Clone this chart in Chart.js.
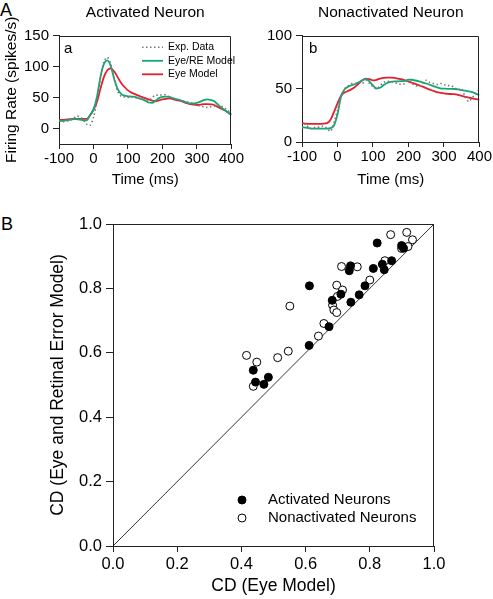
<!DOCTYPE html>
<html>
<head>
<meta charset="utf-8">
<script src="https://cdn.jsdelivr.net/npm/chart.js@4/dist/chart.umd.min.js"></script>
<style>
  body { margin: 0; background: #fff; width: 493px; height: 599px; position: relative; overflow: hidden;
         font-family: Arial, "Liberation Sans", sans-serif; }
  .pane { position: absolute; }
  .tag { position: absolute; color: #000; line-height: 1; }
</style>
</head>
<body>
<div class="tag" style="left:0px;top:1px;font-size:18px">A</div>
<div class="tag" style="left:1px;top:215px;font-size:18px">B</div>
<div class="pane" style="left:0;top:0"><canvas id="panelA" width="245" height="195"></canvas></div>
<div class="pane" style="left:245px;top:0"><canvas id="panelB" width="248" height="195"></canvas></div>
<div class="pane" style="left:0;top:200px"><canvas id="scatterCD" width="493" height="399"></canvas></div>
<div class="tag" style="left:64px;top:40px;font-size:15px">a</div>
<div class="tag" style="left:309px;top:40px;font-size:15px">b</div>
<script>
// time axis (ms), shared by every trace
const timeMs = [-100,-90,-80,-70,-60,-50,-40,-30,-20,-10,0,10,20,30,40,50,60,70,80,90,100,
  110,120,130,140,150,160,170,180,190,200,210,220,230,240,250,260,270,280,290,300,
  310,320,330,340,350,360,370,380,390,400];

// panel a - activated neuron (spikes/s)
const expA = [12,11,12,13,15,20,19,14,7,5,18,45,80,108,115,104,80,60,52,51,50,
  51,50,49,48,46,44,50,54,53,55,54,51,49,47,45,44,43,42,40,38,
  36,35,34,35,36,38,36,33,29,24];
const eyeReA = [12,12.5,13,14,15,15,14.5,13.5,13,22,31,51,83,104,110,101,80,64,56,53,52,
  51.5,51,49,47.5,45,42,41.5,45,49,51,51.5,51,49,47.5,46,44,42,40.5,40.5,41.5,
  43.5,46,47,46,44,39,34,30,26,22];
const eyeA = [14,14,14.5,15,15.5,15.5,15.5,15.5,15.5,21,30,43,64,83,94,97,92,83,73.5,67,61.5,
  58,55.5,53,51,49,47,45,44,45.5,47,48,48.5,47.5,46,45,43,41,39.5,38.5,38,
  38.5,39.5,39.5,39,38,35,32,29.5,26,22];

// panel b - nonactivated neuron (spikes/s)
const expB = [13,17,13,13,14,14,15,13,10,18,30,42,50,53,55,55,56,55,58,55,52,
  50,53,56,57,57,56,55,54,55,58,55,53,52,55,58,56,55,54,55,54,
  53,53,51,49,50,42,38,42,45,50];
const eyeReB = [14,13.5,13,12.5,12.5,12.5,12.5,12.5,13,15.5,26,43,49.5,52,53.5,54.5,56,58,59,57,53,
  50.3,51,53.5,55.5,56.5,57,57,57.2,57.5,58.6,58.5,57.8,57,56,55,53.8,52.5,51.3,50.5,50.2,
  50,50,49.8,49.4,48.8,48.2,47.5,46.8,45.5,44];
const eyeB = [17.7,17.2,17,17,17,17,17.2,17.7,20.7,28,36.3,43.5,46.5,48,49.7,52,55,58,59.6,59,58,
  58.5,59.6,60.3,60.5,60.5,60.2,59.6,59,58,56.8,55.7,54.6,53.3,52,50.6,49.3,48,46.9,46.2,45.6,
  45.3,45.1,45,44.2,43.3,42.5,41.8,41,40.4,39.8];

// panel B - coefficient of determination per neuron
const activatedEye = [0.437,0.444,0.470,0.484,0.611,0.612,0.673,0.683,0.710,0.741,0.767,
  0.785,0.736,0.740,0.811,0.839,0.845,0.868,0.823,0.899,0.905];
const activatedEyeRe = [0.546,0.509,0.502,0.524,0.623,0.808,0.681,0.763,0.782,0.757,0.780,
  0.808,0.855,0.870,0.862,0.875,0.858,0.886,0.941,0.933,0.925];
const nonactEye = [0.416,0.448,0.437,0.513,0.546,0.551,0.640,0.657,0.684,0.688,0.697,0.699,
  0.697,0.715,0.712,0.761,0.800,0.847,0.865,0.915,0.933,0.899,0.919];
const nonactEyeRe = [0.592,0.571,0.496,0.585,0.605,0.745,0.652,0.691,0.748,0.733,0.725,0.775,
  0.810,0.795,0.868,0.867,0.826,0.886,0.967,0.974,0.951,0.924,0.930];
const identity = [0, 1];

// tick labels
const timeTicks = [-100, 0, 100, 200, 300, 400];
const rateTicksA = [0, 50, 100, 150];
const rateTicksB = [0, 50, 100];
const cdTicks = [0, 0.2, 0.4, 0.6, 0.8, 1.0];
const rateFloorA = -25;   // panel a axis starts below zero

const FONT = 'Arial, "Liberation Sans", sans-serif';
const GREEN = '#12a874';
const RED = '#e3202c';
const GREY = '#7a7a7a';

function pts(xs, ys) {
  return xs.map((x, i) => ({ x: x, y: ys[i] }));
}

// top + right edges of the plot box
const frameBox = {
  id: 'frameBox',
  afterDraw(chart) {
    const { ctx, chartArea } = chart;
    const l = Math.round(chartArea.left) + 0.5, r = Math.round(chartArea.right) - 0.5;
    const t = Math.round(chartArea.top) + 0.5, b = Math.round(chartArea.bottom);
    ctx.save();
    ctx.strokeStyle = '#222';
    ctx.lineWidth = 1;
    ctx.beginPath();
    ctx.moveTo(l, t); ctx.lineTo(r, t); ctx.lineTo(r, b);
    ctx.stroke();
    ctx.restore();
  }
};

// small legend drawn inside the plot box
const boxLegend = {
  id: 'boxLegend',
  afterDraw(chart, args, opts) {
    if (!opts || !opts.show) return;
    const { ctx, chartArea } = chart;
    const x0 = chartArea.left + opts.dx;
    let y = (opts.fromBottom ? chartArea.bottom : chartArea.top) + opts.dy;
    ctx.save();
    ctx.font = opts.font;
    ctx.textBaseline = 'middle';
    chart.data.datasets.forEach(ds => {
      if (!ds.label) return;
      if (opts.kind === 'line') {
        ctx.strokeStyle = ds.borderColor;
        ctx.lineWidth = ds.borderWidth;
        ctx.setLineDash(ds.borderDash || []);
        ctx.beginPath();
        ctx.moveTo(x0, y); ctx.lineTo(x0 + opts.sample, y);
        ctx.stroke();
        ctx.setLineDash([]);
      } else {
        ctx.fillStyle = ds.pointBackgroundColor;
        ctx.strokeStyle = ds.pointBorderColor;
        ctx.lineWidth = 1;
        ctx.beginPath();
        ctx.arc(x0, y, ds.pointRadius, 0, Math.PI * 2);
        ctx.fill(); ctx.stroke();
      }
      ctx.fillStyle = '#000';
      ctx.fillText(ds.label, x0 + opts.textGap, y);
      y += opts.gap;
    });
    ctx.restore();
  }
};

function axis(ticks, fontSize, tickLen, pad, fixed, horizontal, title, fmt, min) {
  return {
    type: 'linear',
    min: min !== undefined ? min : ticks[0],
    max: ticks[ticks.length - 1],
    afterBuildTicks: s => { s.ticks = ticks.map(v => ({ value: v })); },
    afterFit: s => { if (horizontal) s.height = fixed; else s.width = fixed; },
    grid: { drawOnChartArea: false, drawTicks: true, tickLength: tickLen, color: '#222' },
    border: { display: true, color: '#222', width: 1 },
    ticks: { color: '#000', padding: pad, maxRotation: 0, autoSkip: false,
             font: { family: FONT, size: fontSize }, callback: fmt || (v => v) },
    title: title
  };
}

function traceSet(exp, eyeRe, eye) {
  return [
    { label: 'Exp. Data', data: pts(timeMs, exp), borderColor: GREY, borderWidth: 1.6,
      borderDash: [1.5, 2.5], pointRadius: 0, tension: 0.3, fill: false },
    { label: 'Eye/RE Model', data: pts(timeMs, eyeRe), borderColor: GREEN, borderWidth: 1.8,
      pointRadius: 0, cubicInterpolationMode: 'monotone', fill: false },
    { label: 'Eye Model', data: pts(timeMs, eye), borderColor: RED, borderWidth: 1.8,
      pointRadius: 0, cubicInterpolationMode: 'monotone', fill: false }
  ];
}

function panelOptions(titleText, rateTicks, rateMin, yWidth, xHeight, padRight, yTitle, legend) {
  return {
    responsive: false,
    animation: false,
    layout: { padding: { left: 0, right: padRight, top: 0, bottom: 0 } },
    plugins: {
      legend: { display: false },
      tooltip: { enabled: false },
      title: { display: true, text: titleText, fullSize: false, color: '#000',
               font: { family: FONT, size: 15.5, weight: 'normal' }, padding: { top: 3, bottom: 14 } },
      boxLegend: legend
    },
    scales: {
      x: axis(timeTicks, 15, 5, 1, xHeight, true,
        { display: true, text: 'Time (ms)', color: '#000', font: { family: FONT, size: 15 },
          padding: { top: 0, bottom: 6 } }),
      y: axis(rateTicks, 15, 6, 4, yWidth, false, yTitle, undefined, rateMin)
    }
  };
}

new Chart(document.getElementById('panelA'), {
  type: 'line',
  data: { datasets: traceSet(expA, eyeReA, eyeA) },
  options: panelOptions('Activated Neuron', rateTicksA, rateFloorA, 59, 51, 7,
    { display: true, text: 'Firing Rate (spikes/s)', color: '#000', font: { family: FONT, size: 15.5 },
      padding: { top: 2, bottom: 0 } },
    { show: true, kind: 'line', dx: 83, dy: 11.7, gap: 13.5, sample: 21, textGap: 26,
      font: '10.5px ' + FONT }),
  plugins: [frameBox, boxLegend]
});

new Chart(document.getElementById('panelB'), {
  type: 'line',
  data: { datasets: traceSet(expB, eyeReB, eyeB) },
  options: panelOptions('Nonactivated Neuron', rateTicksB, undefined, 57, 53, 12, { display: false },
    { show: false }),
  plugins: [frameBox, boxLegend]
});

new Chart(document.getElementById('scatterCD'), {
  type: 'scatter',
  data: {
    datasets: [
      { label: 'Activated Neurons', data: pts(activatedEye, activatedEyeRe),
        pointRadius: 4, pointBackgroundColor: '#000', pointBorderColor: '#000', pointBorderWidth: 1 },
      { label: 'Nonactivated Neurons', data: pts(nonactEye, nonactEyeRe),
        pointRadius: 4, pointBackgroundColor: '#fff', pointBorderColor: '#000', pointBorderWidth: 1 },
      { type: 'line', data: pts(identity, identity), borderColor: '#000', borderWidth: 0.8,
        pointRadius: 0, fill: false }
    ]
  },
  options: {
    responsive: false,
    animation: false,
    layout: { padding: { left: 0, right: 59, top: 24, bottom: 0 } },
    plugins: {
      legend: { display: false },
      tooltip: { enabled: false },
      boxLegend: { show: true, kind: 'point', dx: 129, dy: -46, fromBottom: true, gap: 18,
                   textGap: 26, font: '15px ' + FONT }
    },
    scales: {
      x: axis(cdTicks, 16.5, 6, 3, 53, true,
        { display: true, text: 'CD (Eye Model)', color: '#000', font: { family: FONT, size: 17.5 },
          padding: { top: 0, bottom: 2 } }, v => v.toFixed(1)),
      y: axis(cdTicks, 16.5, 7, 4, 113, false,
        { display: true, text: 'CD (Eye and Retinal Error Model)', color: '#000',
          font: { family: FONT, size: 17.5 }, padding: { top: 48, bottom: 0 } }, v => v.toFixed(1))
    }
  },
  plugins: [frameBox, boxLegend]
});
</script>
</body>
</html>
